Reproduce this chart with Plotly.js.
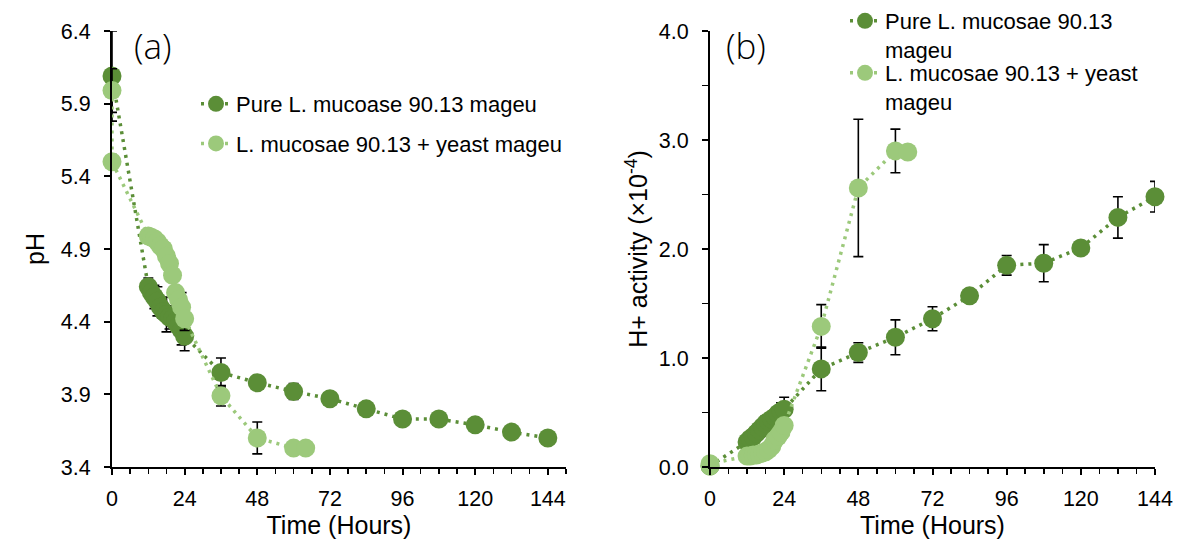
<!DOCTYPE html>
<html>
<head>
<meta charset="utf-8">
<script src="https://cdn.plot.ly/plotly-3.0.1.min.js"></script>
<style>html,body{margin:0;padding:0;background:#fff;}#chart{width:1177px;height:546px;}</style>
</head>
<body>
<div id="chart"></div>
<script>
// ---- Data ----
const timePure = [0, 12, 13, 14, 15, 16, 17, 18, 19, 20, 21, 22, 23, 24, 36, 48, 60, 72, 84, 96, 108, 120, 132, 144];
const pHPure = [6.09, 4.64, 4.60, 4.57, 4.54, 4.50, 4.47, 4.45, 4.43, 4.42, 4.40, 4.37, 4.34, 4.30, 4.05, 3.98, 3.92, 3.87, 3.80, 3.73, 3.73, 3.69, 3.64, 3.60];
const pHPureErr = [0.31, 0.06, 0.05, 0.08, 0.10, 0.06, 0.05, 0.12, 0.08, 0.05, 0.05, 0.06, 0.10, 0.10, 0.10, 0.03, 0.055, 0.03, 0.02, 0.02, 0.03, 0.02, 0.02, 0.02];

const timeYeast = [0, 0, 12, 13, 14, 15, 16, 17, 18, 19, 20, 21, 22, 23, 24, 36, 48, 60, 64];
const pHYeast = [5.99, 5.50, 4.99, 4.98, 4.97, 4.95, 4.92, 4.90, 4.85, 4.80, 4.72, 4.60, 4.55, 4.50, 4.42, 3.89, 3.60, 3.53, 3.53];
const pHYeastErr = [0.15, 0.05, 0.02, 0.02, 0.02, 0.02, 0.02, 0.03, 0.03, 0.03, 0.03, 0.04, 0.05, 0.10, 0.08, 0.07, 0.11, 0.02, 0.02];

const hPure = [0.01, 0.23, 0.26, 0.28, 0.31, 0.34, 0.37, 0.40, 0.42, 0.44, 0.46, 0.49, 0.51, 0.53, 0.90, 1.05, 1.19, 1.36, 1.57, 1.85, 1.87, 2.01, 2.29, 2.48];
const hPureErr = [0.01, 0.03, 0.03, 0.04, 0.05, 0.04, 0.04, 0.07, 0.06, 0.05, 0.06, 0.06, 0.08, 0.11, 0.20, 0.09, 0.16, 0.11, 0.06, 0.09, 0.17, 0.03, 0.19, 0.14];

const hYeast = [0.01, 0.03, 0.10, 0.10, 0.11, 0.11, 0.12, 0.13, 0.14, 0.16, 0.19, 0.25, 0.28, 0.32, 0.38, 1.29, 2.56, 2.90, 2.89];
const hYeastErr = [0.005, 0.01, 0.01, 0.01, 0.01, 0.01, 0.01, 0.01, 0.01, 0.02, 0.02, 0.02, 0.03, 0.03, 0.04, 0.20, 0.63, 0.20, 0.01];

const namesA = ["Pure L. mucoase 90.13 mageu", "L. mucosae 90.13 + yeast mageu"];
const namesB = ["Pure L. mucosae 90.13<br>mageu", "L. mucosae 90.13 + yeast<br>mageu"];
const xTicks = [0, 24, 48, 72, 96, 120, 144];

// ---- Styling ----
const DARK = "#5B8E37";
const LIGHT = "#9CC97B";
const FONT = "Arial";

function tr(x, y, err, name, color, xa, ya, legend, group) {
  return {
    x: x, y: y, name: name, type: "scatter", mode: "lines+markers",
    xaxis: xa, yaxis: ya, legend: legend, legendgroup: group, cliponaxis: false,
    line: {color: color, width: 3.5, dash: "3px,5px"},
    marker: {size: 19, color: color, line: {width: 0}},
    error_y: {type: "data", array: err, visible: true, color: "#000", thickness: 1.6, width: 5}
  };
}

const data = [
  tr(timePure, pHPure, pHPureErr, namesA[0], DARK, "x", "y", "legend", "a1"),
  tr(timeYeast, pHYeast, pHYeastErr, namesA[1], LIGHT, "x", "y", "legend", "a2"),
  tr(timePure, hPure, hPureErr, namesB[0], DARK, "x2", "y2", "legend2", "b1"),
  tr(timeYeast, hYeast, hYeastErr, namesB[1], LIGHT, "x2", "y2", "legend3", "b2")
];

const W = 1177, H = 546;
const px = v => v / W, py = v => 1 - v / H;

const axisBase = {
  showgrid: false, zeroline: false, showline: true, linecolor: "#000", linewidth: 2,
  ticks: "outside", tickcolor: "#000", tickwidth: 2, ticklen: 6,
  tickfont: {family: FONT, size: 21.5, color: "#000"}, mirror: false
};
const titleFont = {family: FONT, size: 25, color: "#000"};
const legRight = {
  xanchor: "left", yanchor: "top", bgcolor: "rgba(0,0,0,0)", borderwidth: 0, valign: "top",
  font: {family: FONT, size: 22, color: "#000"}
};

const layout = {
  width: W, height: H,
  margin: {l: 0, r: 0, t: 0, b: 0},
  paper_bgcolor: "#fff", plot_bgcolor: "#fff",
  font: {family: FONT, color: "#000"},
  xaxis: Object.assign({}, axisBase, {
    domain: [px(112), px(566)], range: [0, 150], anchor: "y",
    tickmode: "array", tickvals: xTicks, ticklabelstandoff: 5,
    minor: {dtick: 6, tick0: 0, ticks: "outside", ticklen: 5, tickwidth: 1.5, tickcolor: "#000"},
    title: {text: "Time (Hours)", font: titleFont, standoff: 6}
  }),
  yaxis: Object.assign({}, axisBase, {
    domain: [py(467), py(31)], range: [3.4, 6.4], anchor: "x",
    tick0: 3.4, dtick: 0.5, tickformat: ".1f", ticklabelstandoff: 9,
    title: {text: "pH", font: titleFont, standoff: 9}
  }),
  xaxis2: Object.assign({}, axisBase, {
    domain: [px(710), px(1155)], range: [0, 144], anchor: "y2",
    tickmode: "array", tickvals: xTicks, ticklabelstandoff: 5,
    minor: {dtick: 6, tick0: 0, ticks: "outside", ticklen: 5, tickwidth: 1.5, tickcolor: "#000"},
    title: {text: "Time (Hours)", font: titleFont, standoff: 6}
  }),
  yaxis2: Object.assign({}, axisBase, {
    domain: [py(467), py(31)], range: [0, 4], anchor: "x2",
    tick0: 0, dtick: 1, tickformat: ".1f", ticklabelstandoff: 9,
    minor: {dtick: 0.5, ticks: "outside", ticklen: 6, tickwidth: 1.5, tickcolor: "#000"},
    title: {text: "H+ activity (×10<sup>-4</sup>)", font: titleFont, standoff: 4}
  }),
  legend: {
    x: px(196), y: py(83), xanchor: "left", yanchor: "top",
    bgcolor: "rgba(0,0,0,0)", borderwidth: 0,
    font: {family: FONT, size: 22, color: "#000"}, tracegroupgap: 8, traceorder: "grouped"
  },
  legend2: Object.assign({}, legRight, {x: px(845), y: py(0)}),
  legend3: Object.assign({}, legRight, {x: px(845), y: py(52)}),
  showlegend: true,
  annotations: [
    {text: "(a)", xref: "paper", yref: "paper", x: px(132), y: py(45), xanchor: "left", yanchor: "middle",
     showarrow: false, font: {family: "Open Sans, sans-serif", size: 35, color: "#000", weight: 300}},
    {text: "(b)", xref: "paper", yref: "paper", x: px(724), y: py(45), xanchor: "left", yanchor: "middle",
     showarrow: false, font: {family: "Open Sans, sans-serif", size: 35, color: "#000", weight: 300}}
  ]
};

Plotly.newPlot("chart", data, layout, {displayModeBar: false, staticPlot: true});
</script>
</body>
</html>
